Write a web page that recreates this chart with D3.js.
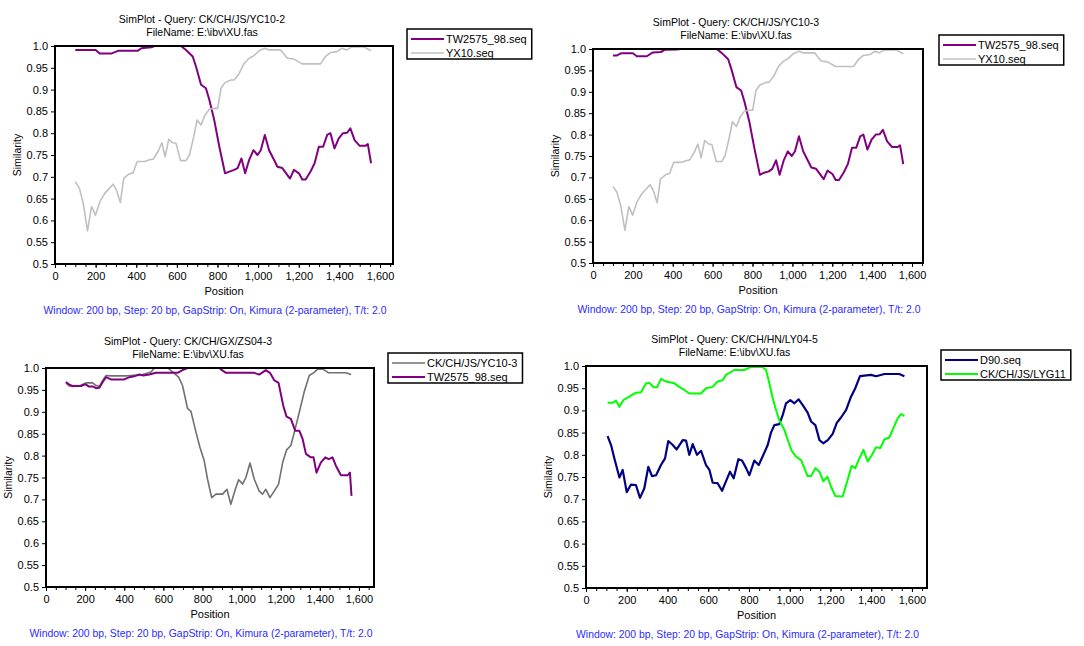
<!DOCTYPE html>
<html>
<head>
<meta charset="utf-8">
<script src="https://cdn.jsdelivr.net/npm/d3@7"></script>
<style>
  body { margin: 0; background: #fff; }
  svg { font-family: "Liberation Sans", Arial, sans-serif; }
  .axis path { display: none; }
  .axis line { stroke: #000; }
  .axis text { font-size: 11px; fill: #000; }
</style>
</head>
<body>
<script>
// tick labels
const xTicks = [0, 200, 400, 600, 800, 1000, 1200, 1400, 1600]
const xMinor = [0, 50, 100, 150, 200, 250, 300, 350, 400, 450, 500, 550, 600, 650, 700, 750, 800, 850, 900, 950,
  1000, 1050, 1100, 1150, 1200, 1250, 1300, 1350, 1400, 1450, 1500, 1550, 1600, 1650]
const yTicks = [0.5, 0.55, 0.6, 0.65, 0.7, 0.75, 0.8, 0.85, 0.9, 0.95, 1.0]

const footnote = 'Window: 200 bp, Step: 20 bp, GapStrip: On, Kimura (2-parameter), T/t: 2.0'
const queries = ['CK/CH/JS/YC10-2', 'CK/CH/JS/YC10-3', 'CK/CH/GX/ZS04-3', 'CK/CH/HN/LY04-5']

// ---------------Panel 1 (query YC10-2)---------------
const p1Tw = [[100, .991], [200, .991], [220, .983], [280, .983], [310, .989], [408, .989], [425, .995], [474, .997],
  [490, 1], [620, 1], [645, .991], [678, .976], [694, .953], [719, .911], [743, .903], [760, .876], [784, .83],
  [809, .769], [837, .708], [858, .712], [882, .716], [899, .72], [918, .742], [936, .708], [956, .739], [977, .761],
  [997, .75], [1013, .761], [1033, .796], [1054, .761], [1078, .739], [1095, .723], [1119, .72], [1157, .696],
  [1176, .716], [1201, .708], [1217, .694], [1234, .694], [1258, .712], [1278, .731], [1299, .769], [1320, .769],
  [1340, .796], [1356, .8], [1376, .765], [1397, .788], [1418, .8], [1438, .801], [1454, .811], [1475, .784],
  [1500, .771], [1528, .771], [1540, .775], [1556, .731]]
const p1Yx = [[100, .689], [120, .674], [139, .639], [160, .576], [180, .632], [199, .612], [221, .643], [245, .662],
  [286, .683], [302, .67], [322, .641], [338, .696], [363, .706], [384, .709], [405, .735], [441, .735], [466, .739],
  [485, .741], [507, .758], [526, .778], [542, .746], [560, .786], [580, .778], [596, .777], [618, .737], [645, .737],
  [662, .75], [683, .792], [699, .83], [719, .819], [739, .842], [760, .855], [784, .857], [801, .857], [817, .903],
  [837, .916], [866, .922], [882, .922], [907, .937], [931, .96], [956, .972], [977, .977], [1005, .989], [1033, .995],
  [1054, .991], [1111, .991], [1144, .972], [1176, .97], [1217, .959], [1307, .959], [1332, .976], [1356, .985],
  [1389, .987], [1413, .995], [1435, .991], [1462, .998], [1520, .998], [1556, .989]]

// ---------------Panel 2 (query YC10-3)---------------
const p2Tw = [[100, .985], [120, .985], [140, .99], [200, .99], [220, .983], [270, .983], [300, .992], [340, .993],
  [360, .998], [420, .999], [440, 1], [620, 1], [645, .991], [678, .976], [694, .953], [719, .911], [743, .903],
  [760, .876], [784, .83], [809, .769], [837, .706], [858, .711], [882, .714], [899, .72], [918, .74], [936, .706],
  [956, .739], [977, .761], [997, .75], [1013, .761], [1033, .796], [1054, .761], [1078, .739], [1095, .723],
  [1119, .72], [1157, .696], [1176, .716], [1201, .708], [1217, .694], [1234, .694], [1258, .712], [1278, .731],
  [1299, .769], [1320, .769], [1340, .796], [1356, .8], [1376, .765], [1397, .788], [1418, .8], [1438, .801],
  [1454, .811], [1475, .784], [1500, .771], [1528, .771], [1540, .775], [1556, .731]]
const p2Yx = [[100, .679], [120, .665], [139, .634], [160, .576], [180, .632], [199, .612], [221, .643], [245, .662],
  [286, .683], [302, .67], [322, .641], [338, .696], [363, .706], [384, .709], [405, .735], [441, .735], [466, .739],
  [485, .741], [507, .758], [526, .778], [542, .746], [560, .786], [580, .778], [596, .777], [618, .737], [645, .737],
  [662, .75], [683, .792], [699, .83], [719, .819], [739, .842], [760, .855], [784, .857], [801, .857], [817, .903],
  [837, .916], [866, .922], [882, .922], [907, .937], [931, .96], [956, .972], [977, .977], [1005, .989], [1033, .995],
  [1054, .991], [1111, .991], [1144, .972], [1176, .97], [1217, .959], [1307, .959], [1332, .976], [1356, .985],
  [1389, .987], [1413, .995], [1435, .991], [1462, .998], [1520, .998], [1556, .989]]

// ---------------Panel 3 (query ZS04-3)---------------
const p3Yc = [[102, .966], [119, .959], [136, .958], [170, .959], [204, .966], [239, .966], [256, .96], [273, .958],
  [293, .974], [307, .983], [332, .982], [409, .982], [434, .983], [494, .985], [537, .991], [554, 1], [622, 1],
  [647, .991], [678, .979], [698, .96], [724, .907], [741, .901], [767, .853], [787, .819], [809, .788], [826, .746],
  [847, .704], [869, .712], [903, .712], [925, .723], [945, .689], [968, .723], [985, .745], [1005, .735], [1022, .75],
  [1043, .783], [1065, .746], [1090, .719], [1107, .712], [1124, .723], [1145, .704], [1167, .719], [1189, .735],
  [1210, .784], [1230, .813], [1252, .823], [1274, .861], [1295, .899], [1320, .945], [1346, .983], [1368, .989],
  [1388, .997], [1414, .998], [1445, .989], [1533, .989], [1560, .985]]
const p3Tw = [[102, .968], [119, .962], [136, .959], [179, .959], [201, .963], [218, .958], [239, .958], [256, .954],
  [273, .955], [290, .968], [307, .979], [332, .974], [400, .974], [426, .979], [451, .981], [477, .985], [497, .983],
  [528, .985], [562, .989], [673, .989], [698, .995], [724, 1], [886, 1], [894, .997], [920, .989], [1065, .989],
  [1090, .985], [1124, .995], [1145, .989], [1167, .972], [1189, .966], [1213, .914], [1230, .889], [1252, .884],
  [1274, .857], [1295, .857], [1312, .838], [1329, .804], [1354, .796], [1368, .796], [1383, .761], [1405, .784],
  [1428, .796], [1445, .792], [1465, .796], [1482, .777], [1508, .755], [1542, .755], [1554, .761], [1562, .708]]

// ---------------Panel 4 (query LY04-5)---------------
const p4D90 = [[106, .842], [123, .822], [139, .792], [164, .749], [180, .766], [200, .716], [221, .733], [245, .732],
  [265, .703], [286, .724], [306, .773], [324, .752], [344, .754], [368, .777], [388, .792], [404, .831], [426, .822],
  [445, .812], [475, .833], [491, .832], [507, .8], [524, .824], [545, .8], [565, .809], [589, .777], [606, .766],
  [622, .737], [646, .736], [668, .719], [687, .74], [707, .762], [725, .747], [748, .79], [766, .787], [786, .77],
  [802, .754], [826, .787], [848, .777], [867, .796], [892, .822], [908, .85], [925, .867], [949, .869], [966, .89],
  [982, .916], [1003, .923], [1023, .916], [1044, .925], [1064, .912], [1088, .895], [1105, .875], [1126, .867],
  [1146, .833], [1165, .826], [1187, .833], [1211, .847], [1231, .872], [1252, .884], [1277, .901], [1301, .931],
  [1322, .95], [1345, .977], [1399, .98], [1424, .977], [1465, .982], [1538, .982], [1563, .977]]
const p4Lyg = [[106, .917], [131, .917], [147, .922], [164, .908], [183, .923], [213, .931], [245, .94], [270, .941],
  [295, .961], [311, .962], [332, .952], [349, .952], [368, .971], [393, .965], [434, .961], [458, .953], [483, .946],
  [507, .938], [565, .938], [589, .95], [622, .953], [646, .965], [671, .968], [687, .98], [728, .991], [777, .991],
  [810, .998], [867, .998], [884, .991], [900, .961], [917, .927], [933, .901], [949, .878], [974, .856], [993, .83],
  [1010, .809], [1031, .796], [1056, .788], [1088, .752], [1105, .752], [1126, .77], [1146, .762], [1165, .74],
  [1185, .751], [1203, .728], [1224, .707], [1260, .706], [1282, .74], [1304, .775], [1322, .77], [1342, .792],
  [1362, .811], [1383, .785], [1404, .8], [1424, .817], [1445, .815], [1465, .835], [1489, .839], [1509, .86],
  [1530, .882], [1547, .892], [1563, .887]]

const purple = '#800080'
const lightGray = '#c0c0c0'
const darkGray = '#707070'
const navy = '#000080'
const green = '#00ff00'

const panels = [
  { query: queries[0], left: 55, right: 393, top: 46, bottom: 264, xMax: 1664,
    legend: { x: 407, y: 29 },
    series: [{ name: 'TW2575_98.seq', data: p1Tw, color: purple, w: 2 },
             { name: 'YX10.seq', data: p1Yx, color: lightGray, w: 1.6 }] },
  { query: queries[1], left: 593, right: 923, top: 49, bottom: 263, xMax: 1655,
    legend: { x: 939, y: 35 },
    series: [{ name: 'TW2575_98.seq', data: p2Tw, color: purple, w: 2 },
             { name: 'YX10.seq', data: p2Yx, color: lightGray, w: 1.6 }] },
  { query: queries[2], left: 46, right: 374, top: 368, bottom: 587, xMax: 1677,
    legend: { x: 388, y: 353 },
    series: [{ name: 'CK/CH/JS/YC10-3', data: p3Yc, color: darkGray, w: 1.6 },
             { name: 'TW2575_98.seq', data: p3Tw, color: purple, w: 2 }] },
  { query: queries[3], left: 586, right: 927, top: 366, bottom: 588, xMax: 1674,
    legend: { x: 941, y: 350 },
    series: [{ name: 'D90.seq', data: p4D90, color: navy, w: 2.2 },
             { name: 'CK/CH/JS/LYG11', data: p4Lyg, color: green, w: 2 }] }
]

const svg = d3.select('body').append('svg')
  .attr('width', 1084)
  .attr('height', 646)

const yFmt = v => (v === 1 ? '1.0' : v === 0.5 ? '0.5' : String(+v.toFixed(2)))

panels.forEach(p => {
  const x = d3.scaleLinear().domain([0, p.xMax]).range([p.left, p.right])
  const y = d3.scaleLinear().domain([0.5, 1.0]).range([p.bottom, p.top])
  const g = svg.append('g')
  const mid = (p.left + p.right) / 2

  // titles
  g.append('text').attr('x', mid - 22).attr('y', p.top - 23)
    .attr('text-anchor', 'middle').attr('font-size', 10.5)
    .text(`SimPlot - Query: ${p.query}`)
  g.append('text').attr('x', mid - 22).attr('y', p.top - 10)
    .attr('text-anchor', 'middle').attr('font-size', 10.5)
    .text('FileName: E:\\ibv\\XU.fas')

  // axes
  g.append('g').attr('class', 'axis')
    .attr('transform', `translate(0,${p.bottom})`)
    .call(d3.axisBottom(x).tickValues(xMinor).tickSize(3).tickFormat(''))
  g.append('g').attr('class', 'axis')
    .attr('transform', `translate(0,${p.bottom})`)
    .call(d3.axisBottom(x).tickValues(xTicks).tickSize(4).tickPadding(4).tickFormat(d3.format(',')))
  g.append('g').attr('class', 'axis')
    .attr('transform', `translate(${p.left},0)`)
    .call(d3.axisLeft(y).tickValues(yTicks).tickSize(4).tickPadding(3).tickFormat(yFmt))

  g.append('text').attr('x', mid).attr('y', p.bottom + 31)
    .attr('text-anchor', 'middle').attr('font-size', 11)
    .text('Position')
  g.append('text')
    .attr('transform', `translate(${p.left - 34},${(p.top + p.bottom) / 2}) rotate(-90)`)
    .attr('text-anchor', 'middle').attr('font-size', 10.5)
    .text('Similarity')
  g.append('text').attr('x', mid - 9).attr('y', p.bottom + 50)
    .attr('text-anchor', 'middle').attr('font-size', 10.4).attr('fill', '#2b2bff')
    .text(footnote)

  // lines
  const line = d3.line().x(d => x(d[0])).y(d => y(d[1]))
  g.append('g').selectAll('path')
    .data(p.series)
    .enter().append('path')
    .attr('fill', 'none')
    .attr('stroke', d => d.color)
    .attr('stroke-width', d => d.w)
    .attr('stroke-linejoin', 'round')
    .attr('d', d => line(d.data))

  // plot box
  g.append('rect')
    .attr('x', p.left).attr('y', p.top)
    .attr('width', p.right - p.left).attr('height', p.bottom - p.top)
    .attr('fill', 'none').attr('stroke', '#000').attr('stroke-width', 2)

  // ---------------Legend---------------
  const lg = g.append('g').attr('transform', `translate(${p.legend.x},${p.legend.y})`)
  const rows = lg.selectAll('g').data(p.series).enter().append('g')
    .attr('transform', (d, i) => `translate(0,${10 + i * 14})`)
  rows.append('line')
    .attr('x1', 4).attr('x2', 37).attr('y1', 0).attr('y2', 0)
    .attr('stroke', d => d.color).attr('stroke-width', d => d.w)
  const labels = rows.append('text')
    .attr('x', 39).attr('y', 4).attr('font-size', 11)
    .text(d => d.name)
  const tw = d3.max(labels.nodes(), n => n.getComputedTextLength())
  lg.insert('rect', ':first-child')
    .attr('x', 0).attr('y', 0)
    .attr('width', 39 + tw + 5).attr('height', 30)
    .attr('fill', '#fff').attr('stroke', '#000').attr('stroke-width', 1.5)
})
</script>
</body>
</html>
